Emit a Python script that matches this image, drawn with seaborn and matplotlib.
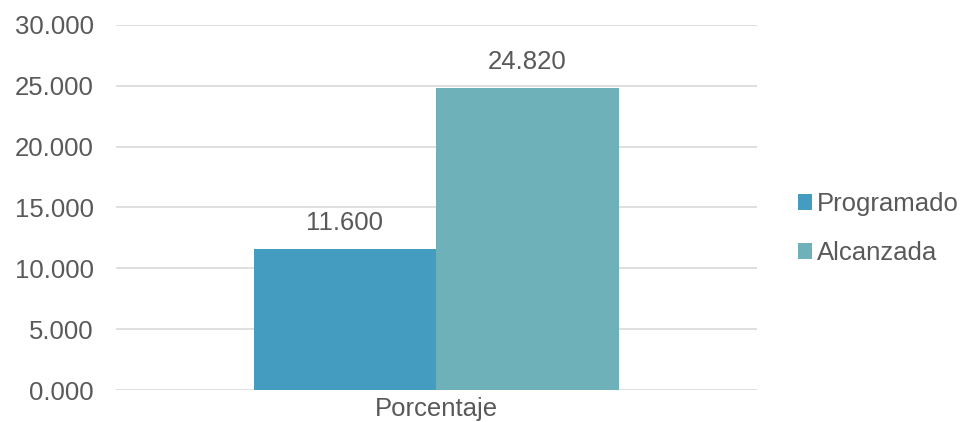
import matplotlib
matplotlib.use("Agg")
import matplotlib.pyplot as plt
import seaborn as sns
import pandas as pd
from matplotlib.patches import Patch

categories = ["Porcentaje"]
series = ["Programado", "Alcanzada"]
values = [11.600, 24.820]
yticks = [0, 5, 10, 15, 20, 25, 30]
colors = ["#449CC0", "#6FB1B8"]

df = pd.DataFrame({"cat": categories * len(series), "serie": series, "val": values})

sns.set_theme(style="white")
plt.rcParams["font.family"] = ["Liberation Sans", "DejaVu Sans"]
txt = "#595959"
fs = 18.5

fig = plt.figure(figsize=(9.65, 4.22), dpi=100)
ax = fig.add_axes([0.120, 0.0758, 0.664, 0.865])
sns.barplot(data=df, x="cat", y="val", hue="serie", palette=colors, width=0.57,
            ax=ax, legend=False, saturation=1, linewidth=0)
ax.set_ylim(0, 30)
ax.set_yticks(yticks)
ax.set_yticklabels([f"{v:.3f}" for v in yticks], fontsize=fs, color=txt)
ax.tick_params(axis="x", labelsize=fs, labelcolor=txt, length=0, pad=5)
ax.tick_params(axis="y", length=0, pad=16)
ax.set_xlim(-0.5, 0.5)
ax.set_xlabel("")
ax.set_ylabel("")
ax.yaxis.grid(True, color="#D9D9D9", linewidth=1.2)
ax.set_axisbelow(True)
for s in ax.spines.values():
    s.set_visible(False)
for c in ax.containers:
    ax.bar_label(c, labels=[f"{v:.3f}" for v in c.datavalues], fontsize=fs, color=txt, padding=10)

handles = [Patch(facecolor=colors[i], label=series[i], linewidth=0) for i in range(len(series))]
fig.legend(handles=handles, loc="center left", bbox_to_anchor=(0.827, 0.458), frameon=False,
           fontsize=fs, labelcolor=txt, handlelength=0.55, handleheight=0.55, handletextpad=0.2,
           labelspacing=0.98, borderaxespad=0, borderpad=0)
fig.savefig("out.png", dpi=100)
